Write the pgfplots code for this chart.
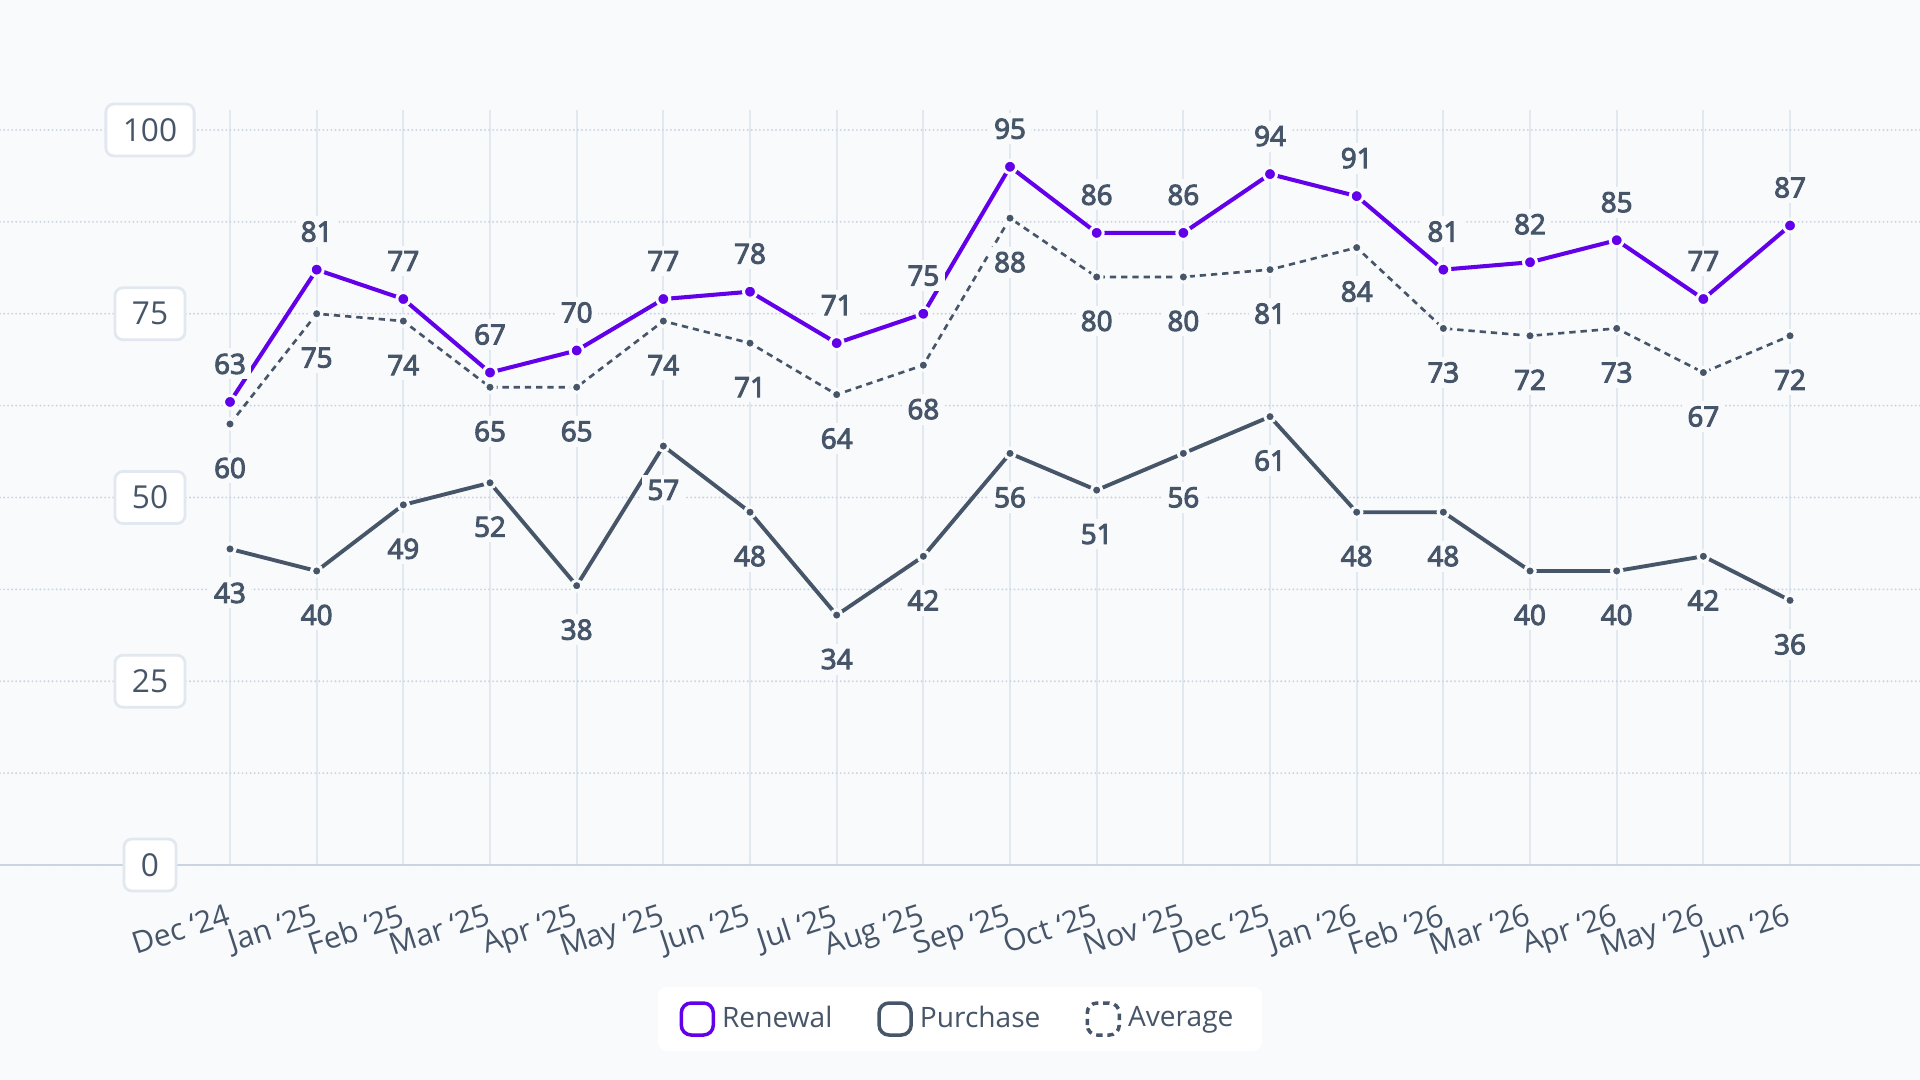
\documentclass[border=0pt]{standalone}
\usepackage{fontspec}
\setmainfont{Open Sans}[AutoFakeBold=3.6]
\usepackage{pgfplots}
\pgfplotsset{compat=1.18}
\definecolor{bg}{HTML}{F8FAFC}
\definecolor{gridv}{HTML}{E2E8F0}
\definecolor{gridh}{HTML}{CBD5E1}
\definecolor{axisc}{HTML}{CBD5E1}
\definecolor{txt}{HTML}{475569}
\definecolor{purp}{HTML}{6200EA}
\definecolor{slate}{HTML}{475569}
\begin{document}
\begin{tikzpicture}
\useasboundingbox (0,0) rectangle (19.2,10.8);
\fill[bg] (0,0) rectangle (19.2,10.8);
\begin{axis}[
  at={(0,2.15cm)}, anchor=south west,
  scale only axis, width=19.2cm, height=7.55cm,
  xmin=-2.654, xmax=19.5, ymin=0, ymax=102.72,
  clip=false,
  axis lines*=left,
  x axis line style={draw=axisc, line width=0.85pt},
  y axis line style={draw=none},
  xtick={0,...,18},
  xticklabels={Dec ‘24,Jan ‘25,Feb ‘25,Mar ‘25,Apr ‘25,May ‘25,Jun ‘25,Jul ‘25,Aug ‘25,Sep ‘25,Oct ‘25,Nov ‘25,Dec ‘25,Jan ‘26,Feb ‘26,Mar ‘26,Apr ‘26,May ‘26,Jun ‘26},
  ytick={0,25,50,75,100},
  minor ytick={12.5,37.5,62.5,87.5},
  xmajorgrids, ymajorgrids, yminorgrids,
  major x grid style={draw=gridv, line width=0.5pt},
  major y grid style={draw=gridh, line width=0.6pt, line cap=round, dash pattern=on 0pt off 1.15pt},
  minor y grid style={draw=gridh, line width=0.6pt, line cap=round, dash pattern=on 0pt off 1.15pt},
  major tick length=0pt, minor tick length=0pt,
  tick style={draw=none},
  /pgf/number format/assume math mode=true,
  xticklabel style={font=\fontsize{8.6}{10}\selectfont, text=txt, yshift=-0.37cm, xshift=-0.04cm, rotate=18, anchor=north east, inner sep=0pt},
  yticklabel style={font=\fontsize{9}{10}\selectfont, text=txt, anchor=center, xshift=1.5cm, fill=white, draw=gridv, line width=0.8pt, rounded corners=0.08cm, inner xsep=0.17cm, minimum height=0.52cm},
  legend style={at={(0.5,-0.204)}, anchor=center, legend columns=3, fill=white, draw=none, rounded corners=0.1cm, font=\fontsize{8}{9}\selectfont, text=txt, inner xsep=0.22cm, inner ysep=0.12cm, /tikz/every even column/.append style={column sep=0.38cm}},
  legend image code/.code={\draw[#1, line width=1pt, rounded corners=2.8pt] (0cm,-0.16cm) rectangle (0.32cm,0.16cm);},
  reverse legend,
  every node near coord/.append style={font=\bfseries\fontsize{7.9}{9}\selectfont, text=txt, fill=bg, inner sep=1.5pt, anchor=center},
]
% Average
\addplot[color=slate, line width=0.75pt, dash pattern=on 1.8pt off 1.4pt, mark=*, mark size=1.5pt, mark options={fill=slate, draw=bg, line width=0.86pt, solid},
  nodes near coords={\bfseries\pgfmathprintnumber{\pgfplotspointmeta}}, every node near coord/.append style={yshift=-0.44cm}]
coordinates {(0,60)(1,75)(2,74)(3,65)(4,65)(5,74)(6,71)(7,64)(8,68)(9,88)(10,80)(11,80)(12,81)(13,84)(14,73)(15,72)(16,73)(17,67)(18,72)};
\addlegendentry{Average}
% Purchase
\addplot[color=slate, line width=1.1pt, mark=*, mark size=1.5pt, mark options={fill=slate, draw=bg, line width=0.86pt, solid},
  nodes near coords={\bfseries\pgfmathprintnumber{\pgfplotspointmeta}}, every node near coord/.append style={yshift=-0.44cm}]
coordinates {(0,43)(1,40)(2,49)(3,52)(4,38)(5,57)(6,48)(7,34)(8,42)(9,56)(10,51)(11,56)(12,61)(13,48)(14,48)(15,40)(16,40)(17,42)(18,36)};
\addlegendentry{Purchase}
% Renewal
\addplot[color=purp, line width=1.15pt, mark=*, mark size=1.85pt, mark options={fill=purp, draw=bg, line width=0.85pt, solid},
  nodes near coords={\bfseries\pgfmathprintnumber{\pgfplotspointmeta}}, every node near coord/.append style={yshift=0.38cm}]
coordinates {(0,63)(1,81)(2,77)(3,67)(4,70)(5,77)(6,78)(7,71)(8,75)(9,95)(10,86)(11,86)(12,94)(13,91)(14,81)(15,82)(16,85)(17,77)(18,87)};
\addlegendentry{Renewal}
\end{axis}
\end{tikzpicture}
\end{document}
